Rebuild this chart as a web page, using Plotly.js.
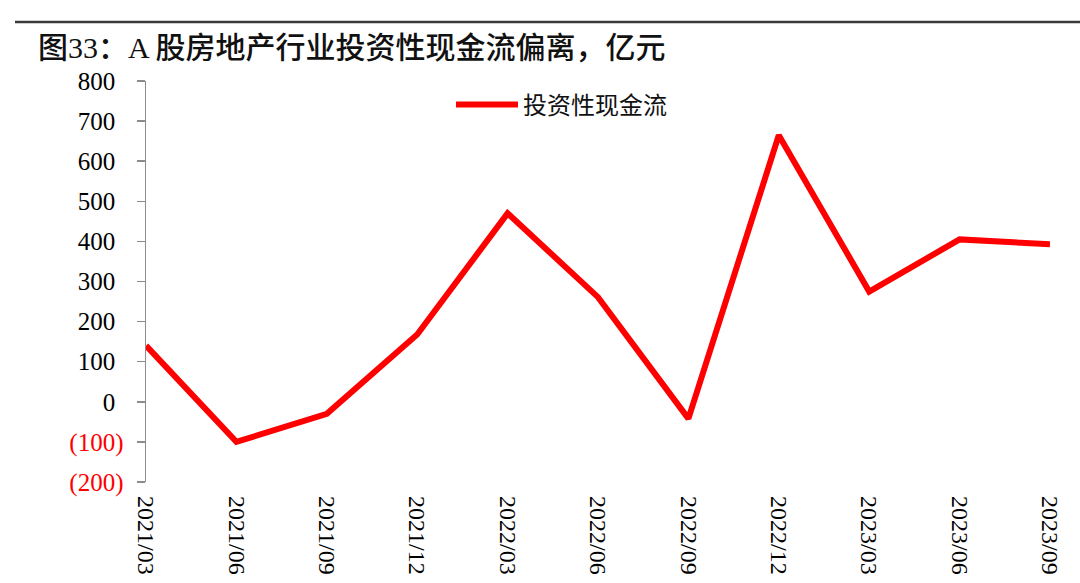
<!DOCTYPE html>
<html>
<head>
<meta charset="utf-8">
<script src="https://cdn.plot.ly/plotly-3.0.1.min.js"></script>
<style>
  html, body { margin: 0; padding: 0; background: #ffffff; }
  #chart { width: 1080px; height: 583px; }
</style>
</head>
<body>
<div id="chart"></div>
<script>
// ---- data ----
const titleText = '图33：A 股房地产行业投资性现金流偏离，亿元';
const seriesName = '投资性现金流';
const categories = ['2021/03', '2021/06', '2021/09', '2021/12', '2022/03', '2022/06',
                    '2022/09', '2022/12', '2023/03', '2023/06', '2023/09'];
const cashFlow = [140, -100, -30, 168, 470, 261, -42, 665, 275, 405, 393];
const yTickVals = [-200, -100, 0, 100, 200, 300, 400, 500, 600, 700, 800];
const yTickText = ['(200)', '(100)', '0', '100', '200', '300', '400', '500', '600', '700', '800'];

// ---- styling helpers ----
const serif = 'Liberation Serif, Times New Roman, serif';
const cjk = 'Noto Sans CJK SC, sans-serif';
const axisGray = '#8c8c8c';

const yTickLabels = yTickText.map(t =>
  t.charAt(0) === '(' ? '<span style="color:#ff0000">' + t + '</span>'
                      : t + '<span style="color:rgba(0,0,0,0)">)</span>');

const trace = {
  type: 'scatter',
  mode: 'lines',
  name: seriesName,
  x: categories,
  y: cashFlow,
  xaxis: 'x',
  yaxis: 'y',
  line: { color: '#ff0000', width: 6 },
  cliponaxis: false,
  hoverinfo: 'x+y'
};

const layout = {
  width: 1080,
  height: 583,
  paper_bgcolor: '#ffffff',
  plot_bgcolor: '#ffffff',
  margin: { l: 146, r: 30, t: 81, b: 101, pad: 0 },
  showlegend: true,
  title: {
    text: titleText,
    font: { family: serif + ', ' + cjk, size: 30, color: '#111111', weight: 500 },
    x: 38 / 1080, xref: 'container', xanchor: 'left',
    y: 1 - 47 / 583, yref: 'container', yanchor: 'middle'
  },
  legend: {
    x: (451 - 146) / 904, xanchor: 'left',
    y: (482 - 105) / 401, yanchor: 'middle',
    bgcolor: 'rgba(0,0,0,0)',
    borderwidth: 0,
    itemwidth: 62,
    font: { family: cjk, size: 24, color: '#111111' }
  },
  xaxis: {
    type: 'category',
    range: [0, categories.length - 1],
    showline: false,
    showgrid: false,
    zeroline: false,
    ticks: '',
    tickangle: 90,
    ticklabelstandoff: 13,
    tickfont: { family: serif, size: 24, color: '#000000' },
    fixedrange: true
  },
  xaxis2: {
    overlaying: 'x',
    anchor: 'free',
    position: 0.2,
    side: 'bottom',
    range: [0, categories.length - 1],
    tick0: 0,
    dtick: 1,
    showline: true,
    linecolor: axisGray,
    linewidth: 1.5,
    ticks: 'outside',
    ticklen: 6,
    tickwidth: 1.5,
    tickcolor: axisGray,
    showticklabels: false,
    showgrid: false,
    zeroline: false,
    fixedrange: true
  },
  yaxis: {
    range: [-200, 800],
    tickmode: 'array',
    tickvals: yTickVals,
    ticktext: yTickLabels,
    showline: true,
    linecolor: axisGray,
    linewidth: 1.5,
    ticks: 'outside',
    ticklen: 8,
    tickwidth: 1.5,
    tickcolor: axisGray,
    ticklabelstandoff: 8,
    showgrid: false,
    zeroline: false,
    tickfont: { family: serif, size: 25, color: '#000000' },
    fixedrange: true
  },
  shapes: [{
    type: 'line',
    xref: 'paper', yref: 'paper',
    x0: (15 - 146) / 904, x1: (1080 - 146) / 904,
    y0: (482 - 22) / 401, y1: (482 - 22) / 401,
    line: { color: '#3a3a3a', width: 2.5 }
  }]
};

Plotly.newPlot('chart', [trace], layout, { displayModeBar: false, staticPlot: true });
</script>
</body>
</html>
